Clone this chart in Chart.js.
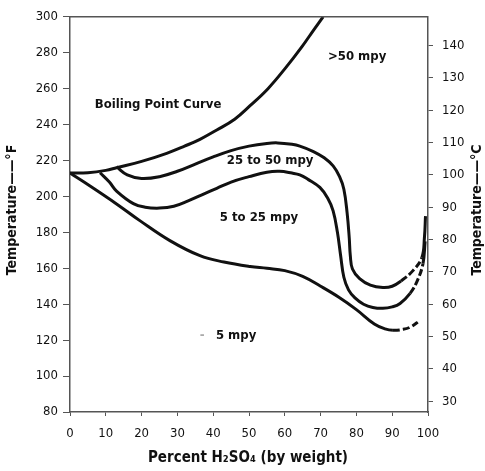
<!DOCTYPE html>
<html>
<head>
<meta charset="utf-8">
<script src="https://cdn.jsdelivr.net/npm/chart.js@4/dist/chart.umd.min.js"></script>
<style>
  html, body { margin: 0; padding: 0; background: #fff; }
  #wrap { width: 485px; height: 471px; }
</style>
</head>
<body>
<div id="wrap"><canvas id="corrosion-chart"></canvas></div>
<script>
// Sulfuric acid corrosion chart

// axis ticks
const fTicks = [80, 100, 120, 140, 160, 180, 200, 220, 240, 260, 280, 300];
const cTicks = [30, 40, 50, 60, 70, 80, 90, 100, 110, 120, 130, 140];
const pctTicks = [0, 10, 20, 30, 40, 50, 60, 70, 80, 90, 100];

// boiling point curve
const boilingX = [0, 5, 10, 13, 20, 27, 32, 36.3, 41, 46, 50.3, 55.3, 60, 64.8, 68, 70.7];
const boilingY = [213, 213.2, 214.5, 216, 219.5, 224, 228, 231.8, 237, 243, 250.5, 260, 271, 283.4, 292.5, 300];

// 25 to 50 mpy boundary
const iso50X = [13, 16, 20, 25, 30, 35, 40, 45, 50, 55, 58, 62, 64.2, 68, 71, 73.5, 75.3, 76.5, 77.4, 78, 78.3, 78.9, 80.9, 83.9, 87.4, 90, 92.5, 95.8, 98.3, 99, 99.3];
const iso50Y = [216.5, 212, 210, 211, 214, 218, 222, 225.5, 228, 229.5, 229.8, 229, 228, 225, 221.5, 217, 211, 204, 191, 177, 167, 159.6, 154.2, 150.6, 149.3, 150, 153, 158.7, 166, 177, 189];

// 5 to 25 mpy boundary
const iso25X = [8.4, 11, 13, 17.7, 21, 25, 29, 33, 37, 41, 45, 50, 55, 58.5, 62, 64.2, 66.5, 69.8, 72, 73.5, 74.7, 75.6, 76.5, 77.8, 79.6, 82, 84.6, 87.4, 90, 92.2, 95, 97, 98.6, 99.2];
const iso25Y = [213.2, 208, 203, 196, 194, 193.5, 194.5, 197.5, 201, 204.5, 208, 211, 213.5, 214, 213, 212, 209.5, 205, 199, 192, 180, 167, 155, 148, 143.5, 140, 138.2, 137.7, 138.5, 140.4, 146, 153, 162.6, 175];

// 5 mpy boundary
const iso5X = [0, 5.6, 13.1, 19.6, 27.9, 36.3, 43, 50.3, 55, 60, 65, 70, 75, 80, 85, 88, 90.2, 93, 95, 97.8];
const iso5Y = [213, 205.8, 195.7, 186.4, 175.4, 167, 163.5, 161, 160, 158.7, 155.5, 150, 144, 137, 129, 126.3, 125.5, 126, 127.2, 131];

// region labels
const labelText = ["Boiling Point Curve", ">50 mpy", "25 to 50 mpy", "5 to 25 mpy", "5 mpy"];
const labelX = [24.6, 80.2, 55.9, 52.8, 46.4];
const labelY = [251.2, 277.8, 219.7, 188, 122.7];

const toPoints = (xs, ys) => xs.map((x, i) => ({ x: x, y: ys[i] }));
const fToC = (f) => (f - 32) / 1.8;

const FONT = "'Liberation Sans Narrow', 'DejaVu Sans Condensed', 'Roboto Condensed', 'Liberation Sans', sans-serif";
const INK = "#111";
const AXIS = "#555";

// dashed part of a curve between two percents
function dashBetween(from, to) {
  return {
    borderDash: (ctx) => (ctx.p0.parsed.x >= from && ctx.p0.parsed.x < to ? [7, 3] : undefined),
  };
}

function line(data, dash) {
  return {
    data: data,
    borderColor: INK,
    borderWidth: 3,
    pointRadius: 0,
    tension: 0.4,
    fill: false,
    segment: dash ? dashBetween(dash[0], dash[1]) : undefined,
  };
}

const annotations = {
  id: "annotations",
  afterDraw(chart) {
    const c = chart.ctx;
    const xs = chart.scales.x;
    const ys = chart.scales.y;
    const area = chart.chartArea;
    c.save();

    // top frame line
    c.strokeStyle = AXIS;
    c.lineWidth = 1.5;
    c.beginPath();
    c.moveTo(area.left, area.top);
    c.lineTo(area.right, area.top);
    c.stroke();

    // region labels
    c.fillStyle = INK;
    c.textAlign = "center";
    c.textBaseline = "middle";
    c.font = "bold 13px " + FONT;
    labelText.forEach((t, i) => {
      c.fillText(t, xs.getPixelForValue(labelX[i]), ys.getPixelForValue(labelY[i]));
    });
    // faded mark in front of the 5 mpy label
    c.fillStyle = "#aaa";
    c.fillText("-", xs.getPixelForValue(36.9), ys.getPixelForValue(122.7));

    // axis titles
    c.fillStyle = INK;
    c.font = "bold 15px " + FONT;
    c.fillText("Percent H\u2082SO\u2084 (by weight)", 248, 458);

    c.font = "bold 14px " + FONT;
    c.save();
    c.translate(12, 210);
    c.rotate(-Math.PI / 2);
    c.fillText("Temperature\u2014\u2014\u00b0F", 0, 0);
    c.restore();

    c.save();
    c.translate(477, 210);
    c.rotate(-Math.PI / 2);
    c.fillText("Temperature\u2014\u2014\u00b0C", 0, 0);
    c.restore();

    c.restore();
  },
};

const ctx = document.getElementById("corrosion-chart").getContext("2d");

new Chart(ctx, {
  type: "line",
  data: {
    datasets: [
      line(toPoints(boilingX, boilingY)),
      line(toPoints(iso50X, iso50Y), [92.5, 98.3]),
      line(toPoints(iso25X, iso25Y), [95, 98.6]),
      line(toPoints(iso5X, iso5Y), [89.4, 100]),
    ],
  },
  options: {
    responsive: true,
    maintainAspectRatio: false,
    animation: false,
    layout: { padding: { top: 15, left: 0, right: 0, bottom: 0 } },
    plugins: {
      legend: { display: false },
      tooltip: { enabled: false },
    },
    scales: {
      x: {
        type: "linear",
        min: 0,
        max: 100,
        afterBuildTicks: (s) => { s.ticks = pctTicks.map((v) => ({ value: v })); },
        afterFit: (s) => { s.height = 59; },
        ticks: { color: INK, padding: 10, font: { family: FONT, size: 13 } },
        grid: { drawOnChartArea: false, tickLength: 4, color: AXIS },
        border: { color: AXIS, width: 1.5 },
      },
      y: {
        type: "linear",
        position: "left",
        min: 80,
        max: 300,
        afterBuildTicks: (s) => { s.ticks = fTicks.map((v) => ({ value: v })); },
        afterFit: (s) => { s.width = 70; },
        ticks: { color: INK, padding: 5, font: { family: FONT, size: 13 } },
        grid: { drawOnChartArea: false, tickLength: 7, color: AXIS },
        border: { color: AXIS, width: 1.5 },
      },
      yC: {
        type: "linear",
        position: "right",
        min: fToC(80),
        max: fToC(300),
        afterBuildTicks: (s) => { s.ticks = cTicks.map((v) => ({ value: v })); },
        afterFit: (s) => { s.width = 57; },
        ticks: { color: INK, padding: 9, font: { family: FONT, size: 13 } },
        grid: { drawOnChartArea: false, tickLength: 5, color: AXIS },
        border: { color: AXIS, width: 1.5 },
      },
    },
  },
  plugins: [annotations],
});
</script>
</body>
</html>
